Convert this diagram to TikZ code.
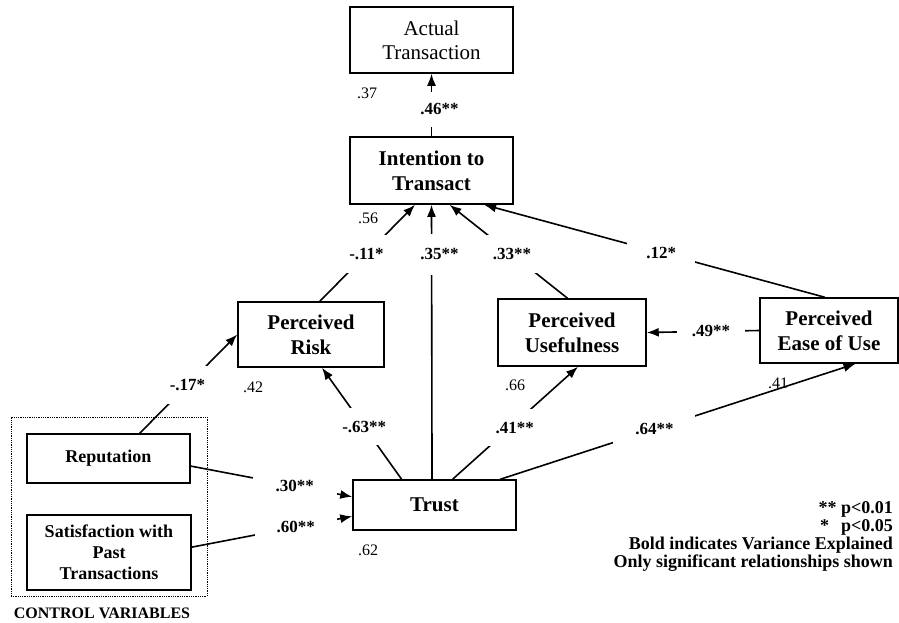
\documentclass[tikz,border=0pt]{standalone}
\usepackage{fontspec}
\setmainfont{Liberation Serif}
\usetikzlibrary{arrows.meta,calc}
\begin{document}
\begin{tikzpicture}[x=1pt,y=-1pt,
  box/.style={draw, line width=1.5pt, rectangle, inner sep=0pt, align=center},
  bigb/.style={font=\fontsize{21}{25}\selectfont\bfseries},
  bigr/.style={font=\fontsize{21}{24}\selectfont},
  smallb/.style={font=\fontsize{18}{21}\selectfont\bfseries},
  conn/.style={line width=1.6pt},
  arr/.style={conn, -{Latex[length=12pt,width=9pt]}},
  gap/.style={fill=white, inner sep=0pt, font=\fontsize{17}{20}\selectfont\bfseries},
  rsq/.style={font=\fontsize{16}{19}\selectfont, inner sep=0pt}]
\useasboundingbox (0,0) rectangle (899,622);
% boxes
\node[box, bigr, minimum width=163pt, minimum height=66pt] (act) at (431.5,40) {Actual\\Transaction};
\node[box, bigb, minimum width=163pt, minimum height=67pt] (int) at (431.5,170.5) {Intention to\\Transact};
\node[box, bigb, minimum width=146pt, minimum height=65pt] (pr) at (311,334.5) {Perceived\\Risk};
\node[box, bigb, minimum width=148pt, minimum height=67pt] (pu) at (572,332.5) {Perceived\\Usefulness};
\node[box, bigb, minimum width=138pt, minimum height=65pt] (peou) at (829,330.5) {Perceived\\Ease of Use};
\node[box, bigb, minimum width=163pt, minimum height=50pt] (trust) at (434.5,505) {Trust};
\node[box, smallb, minimum width=163pt, minimum height=49pt] (rep) at (108.5,458.5) {Reputation};
\node[box, smallb, minimum width=164pt, minimum height=75pt] (sat) at (109,552.5) {Satisfaction with\\Past\\Transactions};
\node[draw, densely dotted, line width=0.8pt, minimum width=196pt, minimum height=179pt, inner sep=0pt] (ctrl) at (109,506.5) {};
\node[font=\fontsize{16}{19}\selectfont\bfseries, inner sep=0pt] (ctrltxt) at (102,613) {CONTROL VARIABLES};
% variance explained
\node[rsq] (r37) at (367,93) {.37};
\node[rsq] (r56) at (368,218) {.56};
\node[rsq] (r42) at (253,387) {.42};
\node[rsq] (r66) at (515,385) {.66};
\node[rsq] (r41) at (778,383) {.41};
\node[rsq] (r62) at (368,550) {.62};
% connectors
\draw[arr] (int.north) -- node[gap, pos=0.43, minimum width=56pt, minimum height=35pt] (l46) {\hspace{16pt}.46**} (act.south);
\draw[arr] ($(trust.north west)!0.485!(trust.north east)$) -- node[gap, pos=0.82, minimum width=56pt, minimum height=41pt] (l35) {\hspace{16pt}.35**} (int.south);
\draw[arr] ($(pr.north west)!0.56!(pr.north east)$) -- node[gap, pos=0.49, minimum width=44pt, minimum height=38pt] (l11) {-.11*} ($(int.south west)!0.40!(int.south east)$);
\draw[arr] ($(pu.north west)!0.47!(pu.north east)$) -- node[gap, pos=0.47, minimum width=50pt, minimum height=38pt] (l33) {.33**} ($(int.south west)!0.61!(int.south east)$);
\draw[arr] ($(peou.north west)!0.47!(peou.north east)$) -- node[gap, pos=0.48, minimum width=68pt, minimum height=22pt] (l12) {.12*} ($(int.south west)!0.82!(int.south east)$);
\draw[arr] (peou.west) -- node[gap, pos=0.43, minimum width=68pt, minimum height=20pt] (l49) {.49**} (pu.east);
\draw[arr] ($(trust.north west)!0.90!(trust.north east)$) -- node[gap, pos=0.434, minimum width=82pt, minimum height=30pt] (l64) {.64**\hspace{18pt}} ($(peou.south west)!0.69!(peou.south east)$);
\draw[arr] ($(trust.north west)!0.30!(trust.north east)$) -- node[gap, pos=0.47, minimum width=58pt, minimum height=37pt] (l63) {-.63**\hspace{12pt}} ($(pr.south west)!0.575!(pr.south east)$);
\draw[arr] ($(trust.north west)!0.61!(trust.north east)$) -- node[gap, pos=0.456, minimum width=52pt, minimum height=37pt] (l41) {\hspace{10pt}.41**} ($(pu.south west)!0.54!(pu.south east)$);
\draw[arr] ($(rep.north west)!0.69!(rep.north east)$) -- node[gap, pos=0.49, minimum width=44pt, minimum height=38pt] (l17) {-.17*} (pr.west);
\draw[arr] ($(rep.north east)!0.65!(rep.south east)$) -- node[gap, pos=0.644, minimum width=84pt, minimum height=22pt] (l30) {.30**\hspace{14pt}} ($(trust.north west)!0.34!(trust.south west)$);
\draw[arr] ($(sat.north east)!0.43!(sat.south east)$) -- node[gap, pos=0.648, minimum width=82pt, minimum height=22pt] (l60) {.60**\hspace{14pt}} ($(trust.north west)!0.72!(trust.south west)$);
% legend
\node[font=\fontsize{18}{17.7}\selectfont\bfseries, align=right, anchor=east, inner sep=0pt] (legend) at (893,536.5)
  {** p<0.01\\*\hspace{12pt}p<0.05\\Bold indicates Variance Explained\\Only significant relationships shown};
\end{tikzpicture}
\end{document}
